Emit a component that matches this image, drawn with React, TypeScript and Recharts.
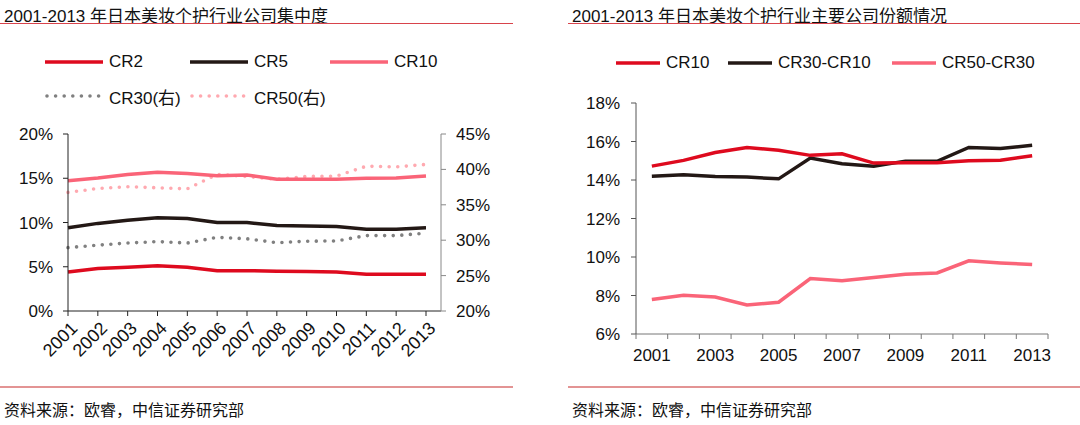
import { Line, LineChart, XAxis, YAxis } from 'recharts'

// 2001-2013 concentration of the Japanese beauty & personal-care market.
const years = ['2001', '2002', '2003', '2004', '2005', '2006', '2007', '2008', '2009', '2010', '2011', '2012', '2013']

const cr2 = [4.4, 4.8, 4.95, 5.1, 4.95, 4.55, 4.55, 4.5, 4.45, 4.4, 4.15, 4.15, 4.15]
const cr5 = [9.4, 9.9, 10.25, 10.55, 10.45, 10.0, 10.0, 9.65, 9.6, 9.55, 9.25, 9.25, 9.4]
const cr10 = [14.72, 15.02, 15.43, 15.69, 15.54, 15.28, 15.36, 14.88, 14.9, 14.9, 15.0, 15.03, 15.26]
const cr30 = [28.95, 29.3, 29.6, 29.8, 29.6, 30.4, 30.2, 29.65, 29.85, 29.9, 30.65, 30.65, 31.0]
const cr50 = [36.75, 37.3, 37.55, 37.4, 37.25, 39.3, 39.0, 38.6, 39.0, 39.05, 40.45, 40.35, 40.7]

const cr30minus10 = [14.2, 14.27, 14.18, 14.15, 14.06, 15.14, 14.84, 14.72, 14.98, 14.97, 15.69, 15.64, 15.8]
const cr50minus30 = [7.79, 8.01, 7.92, 7.51, 7.65, 8.88, 8.77, 8.93, 9.1, 9.17, 9.8, 9.69, 9.61]

const leftTicks = [0, 5, 10, 15, 20]
const rightTicks = [20, 25, 30, 35, 40, 45]
const shareTicks = [6, 8, 10, 12, 14, 16, 18]

const RED = '#DE0A1E'
const BLACK = '#231815'
const PINK = '#FA6478'
const GREY_DOT = '#808080'
const PINK_DOT = '#FFA9B0'

const FONT = 'Arial, "Liberation Sans", "Noto Sans CJK SC", sans-serif'

const leftData = years.map((year, i) => ({
  year,
  cr2: cr2[i],
  cr5: cr5[i],
  cr10: cr10[i],
  cr30: cr30[i],
  cr50: cr50[i],
}))

const rightData = years.map((year, i) => ({
  year,
  cr10: cr10[i],
  mid: cr30minus10[i],
  tail: cr50minus30[i],
}))

const pct = (v: number) => `${v}%`

// rotated year labels, left chart
function SlantTick({ x, y, payload }: any) {
  return (
    <text
      transform={`translate(${x + 6},${y + 9}) rotate(-45)`}
      textAnchor="end"
      dy="0.35em"
      fontSize={18}
      fontFamily={FONT}
      fill="#111"
    >
      {payload.value}
    </text>
  )
}

// right chart: tick marks sit on band edges, labels on every other band
const RIGHT_PLOT_W = 412
const BAND = RIGHT_PLOT_W / years.length
function BandTick({ x, y, payload, index }: any) {
  const last = index === years.length - 1
  return (
    <g>
      <line x1={x - BAND / 2} y1={y} x2={x - BAND / 2} y2={y + 5} stroke="#777" strokeWidth={1} />
      {last && <line x1={x + BAND / 2} y1={y} x2={x + BAND / 2} y2={y + 5} stroke="#777" strokeWidth={1} />}
      {index % 2 === 0 && (
        <text x={x} y={y + 21} textAnchor="middle" dominantBaseline="central" fontSize={17} fontFamily={FONT} fill="#111">
          {payload.value}
        </text>
      )}
    </g>
  )
}

function Swatch({ color, dotted }: { color: string; dotted?: boolean }) {
  return (
    <svg width={58} height={8} style={{ display: 'block' }}>
      {dotted ? (
        <line x1={2} y1={4} x2={54} y2={4} stroke={color} strokeWidth={3.6} strokeLinecap="round" strokeDasharray="0 8.6" />
      ) : (
        <line x1={0} y1={4} x2={58} y2={4} stroke={color} strokeWidth={3.5} />
      )}
    </svg>
  )
}

function LegendItem({ left, top, label, color, dotted, width = 58 }: any) {
  return (
    <div style={{ position: 'absolute', left, top, display: 'flex', alignItems: 'center', height: 20 }}>
      <div style={{ width, overflow: 'hidden' }}>
        <Swatch color={color} dotted={dotted} />
      </div>
      <span style={{ marginLeft: 6, fontSize: 17, fontFamily: FONT, color: '#111', whiteSpace: 'nowrap' }}>{label}</span>
    </div>
  )
}

const titleStyle = {
  position: 'absolute' as const,
  top: 2,
  fontSize: 17,
  fontFamily: FONT,
  color: '#111',
  whiteSpace: 'nowrap' as const,
}

const sourceStyle = {
  position: 'absolute' as const,
  top: 397,
  fontSize: 16,
  fontFamily: '"Noto Sans CJK SC", sans-serif',
  color: '#111',
  whiteSpace: 'nowrap' as const,
}

export default function App() {
  return (
    <div style={{ position: 'absolute', left: 0, top: 0, width: 1080, height: 425, background: '#fff', overflow: 'hidden' }}>
      {/* headers */}
      <div style={{ ...titleStyle, left: 4 }}>2001-2013 年日本美妆个护行业公司集中度</div>
      <div style={{ ...titleStyle, left: 572 }}>2001-2013 年日本美妆个护行业主要公司份额情况</div>
      <div style={{ position: 'absolute', left: 0, top: 23, width: 513, height: 1, background: '#D8434B' }} />
      <div style={{ position: 'absolute', left: 568, top: 23, width: 512, height: 1, background: '#D8434B' }} />

      {/* left legend */}
      <LegendItem left={45} top={52} label="CR2" color={RED} />
      <LegendItem left={190} top={52} label="CR5" color={BLACK} />
      <LegendItem left={330} top={52} label="CR10" color={PINK} />
      <LegendItem left={45} top={86} label="CR30(右)" color={GREY_DOT} dotted />
      <LegendItem left={190} top={86} label="CR50(右)" color={PINK_DOT} dotted />

      {/* right legend */}
      <LegendItem left={616} top={53} label="CR10" color={RED} width={44} />
      <LegendItem left={728} top={53} label="CR30-CR10" color={BLACK} width={44} />
      <LegendItem left={892} top={53} label="CR50-CR30" color={PINK} width={44} />

      <div style={{ position: 'absolute', left: 0, top: 120 }}>
        <LineChart width={500} height={260} data={leftData} margin={{ top: 14, right: 0, bottom: 0, left: 0 }}>
          <XAxis
            dataKey="year"
            interval={0}
            padding={{ left: 0, right: 15 }}
            tick={<SlantTick />}
            tickSize={5}
            tickMargin={0}
            height={69}
            axisLine={{ stroke: '#222' }}
            tickLine={{ stroke: '#222' }}
          />
          <YAxis
            yAxisId="l"
            domain={[0, 20]}
            ticks={leftTicks}
            tickFormatter={pct}
            width={68}
            tickSize={5}
            tickMargin={10}
            axisLine={{ stroke: '#222' }}
            tickLine={{ stroke: '#222' }}
            tick={{ fontSize: 17, fontFamily: FONT, fill: '#111' }}
          />
          <YAxis
            yAxisId="r"
            orientation="right"
            domain={[20, 45]}
            ticks={rightTicks}
            tickFormatter={pct}
            width={59}
            tickSize={5}
            tickMargin={10}
            axisLine={{ stroke: '#888' }}
            tickLine={{ stroke: '#888' }}
            tick={{ fontSize: 17, fontFamily: FONT, fill: '#111', textAnchor: 'start' }}
          />
          <Line yAxisId="r" dataKey="cr50" stroke={PINK_DOT} strokeWidth={3.6} strokeLinecap="round" strokeDasharray="0 8.6" dot={false} isAnimationActive={false} />
          <Line yAxisId="r" dataKey="cr30" stroke={GREY_DOT} strokeWidth={3.6} strokeLinecap="round" strokeDasharray="0 8.6" dot={false} isAnimationActive={false} />
          <Line yAxisId="l" dataKey="cr10" stroke={PINK} strokeWidth={3.5} dot={false} isAnimationActive={false} />
          <Line yAxisId="l" dataKey="cr5" stroke={BLACK} strokeWidth={3.5} dot={false} isAnimationActive={false} />
          <Line yAxisId="l" dataKey="cr2" stroke={RED} strokeWidth={3.5} dot={false} isAnimationActive={false} />
        </LineChart>
      </div>

      <div style={{ position: 'absolute', left: 560, top: 90 }}>
        <LineChart width={510} height={280} data={rightData} margin={{ top: 13, right: 22, bottom: 0, left: 0 }}>
          <XAxis
            dataKey="year"
            scale="band"
            interval={0}
            tick={<BandTick />}
            tickLine={false}
            tickSize={0}
            tickMargin={0}
            height={36}
            axisLine={{ stroke: '#777' }}
          />
          <YAxis
            domain={[6, 18]}
            ticks={shareTicks}
            tickFormatter={pct}
            width={76}
            tickSize={5}
            tickMargin={11}
            axisLine={{ stroke: '#555' }}
            tickLine={{ stroke: '#555' }}
            tick={{ fontSize: 17, fontFamily: FONT, fill: '#111' }}
          />
          <Line dataKey="tail" stroke={PINK} strokeWidth={3.5} dot={false} isAnimationActive={false} />
          <Line dataKey="mid" stroke={BLACK} strokeWidth={3.5} dot={false} isAnimationActive={false} />
          <Line dataKey="cr10" stroke={RED} strokeWidth={3.5} dot={false} isAnimationActive={false} />
        </LineChart>
      </div>

      {/* footers */}
      <div style={{ position: 'absolute', left: 0, top: 386, width: 513, height: 2, background: '#E39494' }} />
      <div style={{ position: 'absolute', left: 568, top: 386, width: 512, height: 2, background: '#E39494' }} />
      <div style={{ ...sourceStyle, left: 4 }}>资料来源：欧睿，中信证券研究部</div>
      <div style={{ ...sourceStyle, left: 572 }}>资料来源：欧睿，中信证券研究部</div>
    </div>
  )
}
